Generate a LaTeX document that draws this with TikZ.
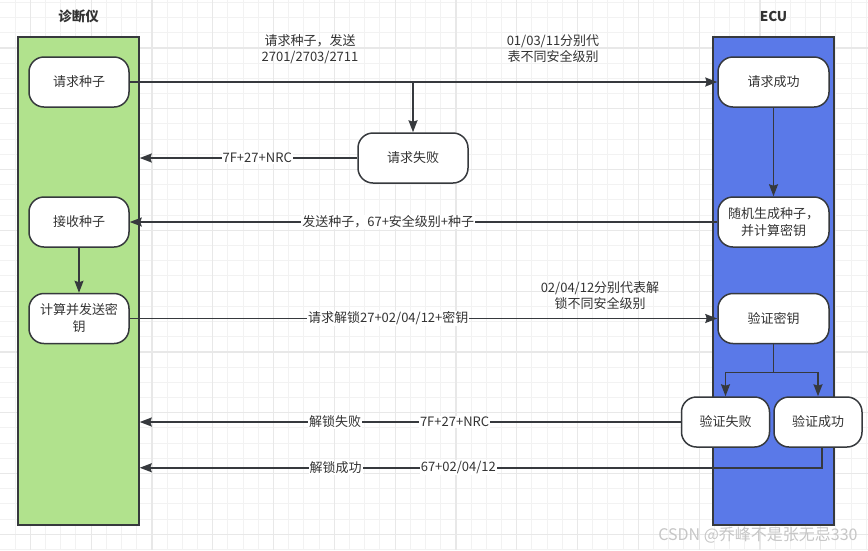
\documentclass[tikz,border=0pt]{standalone}
\usepackage{fontspec}
\setmainfont{Noto Sans CJK SC}
\usetikzlibrary{arrows.meta,positioning}
\definecolor{lanegreen}{HTML}{B1E28D}
\definecolor{laneblue}{HTML}{5A79E8}
\definecolor{edgegray}{HTML}{36393D}
\definecolor{textgray}{HTML}{333333}
\definecolor{gridminor}{HTML}{F2F2F2}
\definecolor{gridmajor}{HTML}{E8E8E8}

\begin{document}
\begin{tikzpicture}[x=1pt,y=-1pt,
  lane/.style={draw=edgegray,line width=1.5pt,minimum width=121pt,minimum height=488pt,inner sep=0pt},
  stepnode/.style={draw=edgegray,fill=white,line width=1.5pt,rounded corners=15pt,
    minimum width=100pt,minimum height=50pt,inner sep=2pt,align=center,text=textgray,
    font=\fontsize{13}{17}\selectfont},
  flow/.style={draw=edgegray,line width=1.5pt,-{Stealth[length=12pt,width=9pt,inset=1.5pt]}},
  link/.style={draw=edgegray,line width=1.5pt},
  msg/.style={fill=white,inner sep=1pt,text=textgray,font=\fontsize{13}{16}\selectfont},
  note/.style={align=center,text=textgray,font=\fontsize{13}{16}\selectfont},
  title/.style={text=textgray,font=\bfseries\fontsize{13.5}{16}\selectfont}]

% background and grid
\fill[white] (0,0) rectangle (868,550);
\useasboundingbox (0,0) rectangle (868,550);
\foreach \i in {0,...,57}
  \draw[gridminor,line width=1pt] ({-0.1+15.2*\i},0) -- ({-0.1+15.2*\i},550);
\foreach \j in {0,...,36}
  \draw[gridminor,line width=1pt] (0,{2.3+15.2*\j}) -- (868,{2.3+15.2*\j});
\foreach \i in {0,...,14}
  \draw[gridmajor,line width=1.2pt] ({30.3+60.8*\i},0) -- ({30.3+60.8*\i},550);
\foreach \j in {0,...,8}
  \draw[gridmajor,line width=1.2pt] (0,{47.9+60.8*\j}) -- (868,{47.9+60.8*\j});

% lanes
\node[lane,fill=lanegreen] (diag) at (78.5,281) {};
\node[lane,fill=laneblue] (ecu) at (773.5,281) {};
\node[title] (diagtitle) at (78.5,16) {诊断仪};
\node[title] (ecutitle) at (773.5,16) {ECU};

% diagnostic tester side
\node[stepnode] (reqseed) at (79,82) {请求种子};
\node[stepnode] (recvseed) at (79,222) {接收种子};
\node[stepnode,below=45pt of recvseed] (calckey) {计算并发送密\\钥};

% ECU side
\node[stepnode,minimum width=111pt] (reqok) at (773.5,82) {请求成功};
\node[stepnode,minimum width=111pt] (genseed) at (773.5,222) {随机生成种子，\\并计算密钥};
\node[stepnode,minimum width=111pt,below=45pt of genseed] (verify) {验证密钥};
\node[stepnode,minimum width=88pt] (vfail) at (725.5,422) {验证失败};
\node[stepnode,minimum width=88pt] (vok) at (818,422) {验证成功};
\node[stepnode,minimum width=110pt] (reqfail) at (413,158) {请求失败};

% notes
\node[note] (seednote) at (310,49) {请求种子，发送\\2701/2703/2711};
\node[note] (levelnote) at (553,49) {01/03/11分别代\\表不同安全级别};
\node[note] (unlocknote) at (600,296) {02/04/12分别代表解\\锁不同安全级别};

% messages
\draw[flow] (reqseed) -- (reqok);
\draw[flow] (reqfail.north |- reqseed.east) -- (reqfail.north);
\draw[flow] (reqfail) -- (reqfail -| diag.east) node[msg,pos=0.46] {7F+27+NRC};
\draw[flow] (reqok) -- (genseed);
\draw[flow] (genseed) -- (recvseed) node[msg,pos=0.56] {发送种子，67+安全级别+种子};
\draw[flow] (recvseed) -- (calckey);
\draw[flow] (calckey) -- (verify) node[msg,pos=0.44] {请求解锁27+02/04/12+密钥};
\draw[link] (verify.south) -- ++(0,28) coordinate (split);
\draw[flow] (split) -| (vfail.north);
\draw[flow] (split) -| (vok.north);
\draw[flow] (vfail) -- (vfail -| diag.east)
  node[msg,pos=0.418] {7F+27+NRC} node[msg,pos=0.639] {解锁失败};
\draw[flow] ([xshift=4pt]vok.south) -- ++(0,20) coordinate (okturn) -- (okturn -| diag.east)
  node[msg,pos=0.533] {67+02/04/12} node[msg,pos=0.713] {解锁成功};

\node[text=gray!45,font=\fontsize{16}{18}\selectfont] (mark) at (758,535) {CSDN @乔峰不是张无忌330};
\end{tikzpicture}
\end{document}
